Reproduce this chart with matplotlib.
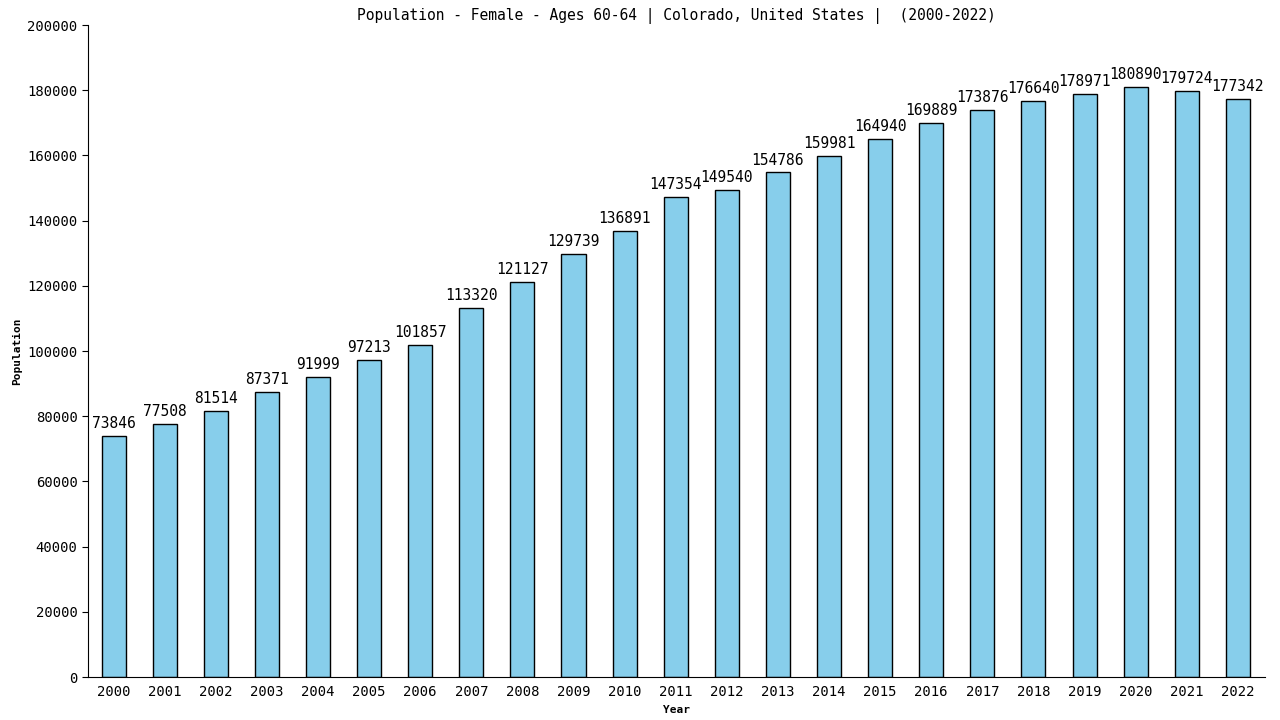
import numpy as np
import matplotlib
matplotlib.use('Agg')
import matplotlib.pyplot as plt

years = [str(y) for y in range(2000, 2023)]
population = [73846, 77508, 81514, 87371, 91999, 97213, 101857, 113320, 121127,
              129739, 136891, 147354, 149540, 154786, 159981, 164940, 169889,
              173876, 176640, 178971, 180890, 179724, 177342]

plt.rcParams['font.family'] = ['DejaVu Sans Mono', 'DejaVu Sans']

fig = plt.figure(figsize=(12.8, 7.2), dpi=100)
ax = fig.add_axes([0.06875, 0.0597, 0.9195, 0.9055])

x = np.arange(len(years))
ax.bar(x, population, width=0.47, color='#87CEEB', edgecolor='black', linewidth=1)

for xi, v in zip(x, population):
    ax.text(xi, v + 1500, str(v), ha='center', va='bottom', fontsize=10.5)

ax.set_xlim(-0.5, len(years) - 0.47)
ax.set_ylim(0, 200000)
ax.set_yticks(np.arange(0, 200001, 20000))
ax.set_xticks(x)
ax.set_xticklabels(years, fontsize=10)
ax.tick_params(axis='y', labelsize=10, length=4, direction='out')
ax.tick_params(axis='x', length=0, pad=6)
ax.spines['top'].set_visible(False)
ax.spines['right'].set_visible(False)

ax.set_xlabel('Year', fontsize=8, fontweight='bold')
ax.set_ylabel('Population', fontsize=8, fontweight='bold')
ax.set_title('Population - Female - Ages 60-64 | Colorado, United States |  (2000-2022)',
             fontsize=10.5, pad=4)

fig.savefig('out.png', dpi=100)
